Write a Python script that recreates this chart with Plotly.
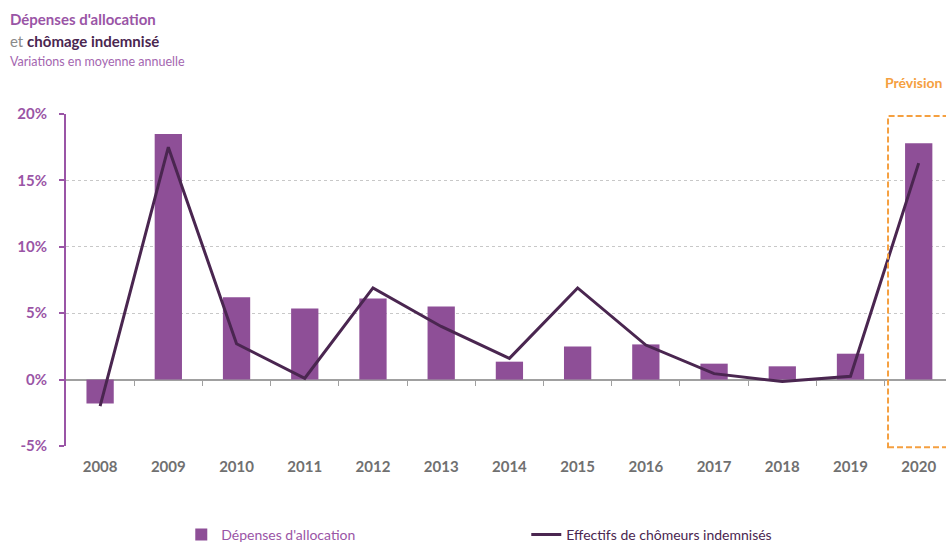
import plotly.graph_objects as go

years = ["2008", "2009", "2010", "2011", "2012", "2013", "2014", "2015", "2016", "2017", "2018", "2019", "2020"]
depenses = [-1.8, 18.5, 6.2, 5.35, 6.1, 5.5, 1.35, 2.5, 2.65, 1.2, 1.0, 1.95, 17.8]
effectifs = [-2.0, 17.5, 2.7, 0.1, 6.9, 4.0, 1.6, 6.9, 2.6, 0.45, -0.15, 0.25, 16.3]
ytick_vals = [-5, 0, 5, 10, 15, 20]
ytick_text = ["-5%", "0%", "5%", "10%", "15%", "20%"]

PURPLE = "#8E4F97"
DARK = "#4A2650"
LABEL = "#9A55A6"
ORANGE = "#F5A040"
FONT = "Lato, Open Sans, sans-serif"

xi = list(range(len(years)))

fig = go.Figure()
fig.add_trace(go.Bar(
    x=xi, y=depenses, width=0.4, marker=dict(color=PURPLE, line=dict(width=0)),
    name="<span style='color:#9A55A6'>Dépenses d'allocation</span>",
))
fig.add_trace(go.Scatter(
    x=xi, y=effectifs, mode="lines", line=dict(color=DARK, width=3),
    name="<span style='color:#4A2650'>Effectifs de chômeurs indemnisés</span>",
))
# invisible trace on x2 for boundary ticks at zero line
fig.add_trace(go.Scatter(x=[0], y=[0], xaxis="x2", mode="markers",
                         marker=dict(opacity=0), showlegend=False, hoverinfo="skip"))

fig.update_layout(
    width=946, height=542,
    margin=dict(l=66, r=0, t=114, b=96, autoexpand=False),
    paper_bgcolor="white", plot_bgcolor="white",
    font=dict(family=FONT),
    bargap=0.6,
    showlegend=True,
    legend=dict(orientation="h", x=0.131, xanchor="left", yref="container", y=0.013,
                yanchor="middle",
                font=dict(size=14, family=FONT), entrywidth=300, entrywidthmode="pixels",
                itemwidth=30, traceorder="normal"),
    xaxis=dict(
        range=[-0.5, 12.4], tickmode="array", tickvals=xi, ticktext=years,
        showgrid=False, showline=False, ticks="", ticklabelstandoff=10,
        tickfont=dict(size=15, color="#707070", family=FONT, weight="bold"),
        zeroline=False, fixedrange=True,
    ),
    xaxis2=dict(
        overlaying="x", anchor="free", position=0.2, range=[-0.5, 12.4],
        tickmode="array", tickvals=[i + 0.5 for i in xi[:-1]], ticks="outside",
        ticklen=5, tickcolor="#A0A0A0", showticklabels=False, showgrid=False,
        showline=False, zeroline=False, side="bottom",
    ),
    yaxis=dict(
        range=[-5, 20], tickmode="array", tickvals=ytick_vals, ticktext=ytick_text,
        showgrid=True, gridcolor="#C8C8C8", griddash="dot", gridwidth=1,
        showline=True, linecolor=LABEL, linewidth=2,
        ticks="outside", ticklen=5, tickcolor=LABEL, tickwidth=2,
        ticklabelstandoff=9,
        tickfont=dict(size=15, color=LABEL, family=FONT, weight="bold"),
        zeroline=True, zerolinecolor="#A0A0A0", zerolinewidth=2,
    ),
)

# Forecast box
fig.add_shape(type="rect", xref="x", yref="paper", x0=11.55, x1=12.6, y0=-0.004, y1=0.994,
              line=dict(color=ORANGE, width=2, dash="6px,3px"), fillcolor="rgba(0,0,0,0)")
fig.add_annotation(text="<b>Prévision</b>", xref="paper", yref="paper", x=0.9985, y=1.0,
                   xanchor="right", yanchor="bottom", yshift=21, showarrow=False,
                   font=dict(size=14, color=ORANGE, family=FONT))

# Titles
fig.add_annotation(text="<b>Dépenses d'allocation</b>", xref="paper", yref="paper",
                   x=-0.066, y=1.0, yshift=84, xanchor="left", yanchor="bottom", showarrow=False,
                   font=dict(size=15, color="#9A55A6", family=FONT))
fig.add_annotation(text="<span style='color:#8A8A8A'>et </span><b>chômage indemnisé</b>",
                   xref="paper", yref="paper",
                   x=-0.066, y=1.0, yshift=62, xanchor="left", yanchor="bottom", showarrow=False,
                   font=dict(size=15, color="#4A2650", family=FONT))
fig.add_annotation(text="Variations en moyenne annuelle", xref="paper", yref="paper",
                   x=-0.066, y=1.0, yshift=43, xanchor="left", yanchor="bottom", showarrow=False,
                   font=dict(size=12.5, color="#A466B0", family=FONT))

fig.write_html("out.html", config={"displayModeBar": False},
               post_script="document.body.style.margin='0';document.body.style.overflow='hidden';")
